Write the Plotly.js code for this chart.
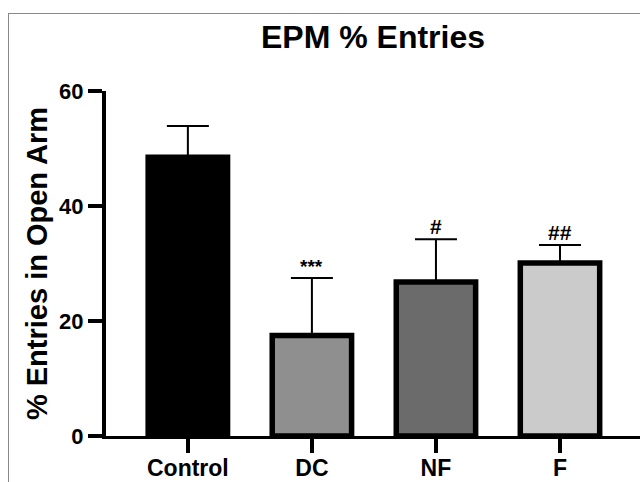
<!DOCTYPE html>
<html>
<head>
<meta charset="utf-8">
<script src="https://cdn.plot.ly/plotly-3.0.1.min.js"></script>
<style>
  html, body { margin: 0; padding: 0; background: #fff; }
  #wrap { position: relative; width: 640px; height: 482px; overflow: hidden; }
  #chart { width: 640px; height: 482px; }
  #frame { position: absolute; left: 8px; top: 13px; width: 700px; height: 600px;
           border-left: 1.5px solid #888; border-top: 1.5px solid #888; pointer-events: none; }
</style>
</head>
<body>
<div id="wrap">
  <div id="chart"></div>
  <div id="frame"></div>
</div>
<script>
const categories = ["Control", "DC", "NF", "F"];
const means = [48.5, 17.5, 26.8, 30.1];
const errors = [5.4, 10.0, 7.4, 3.1];
const significance = ["", "***", "#", "##"];
const annotationSizes = [0, 19, 21, 21];
const barColors = ["#000000", "#8f8f8f", "#6b6b6b", "#cbcbcb"];

const FONT = "Arial, 'Liberation Sans', sans-serif";

const trace = {
  type: "bar",
  x: categories,
  y: means,
  width: 0.64,
  marker: { color: barColors, line: { color: "#000", width: 5.5 } },
  error_y: {
    type: "data",
    symmetric: false,
    array: errors,
    arrayminus: errors.map(() => 0),
    color: "#000",
    thickness: 2,
    width: 21
  },
  hoverinfo: "skip"
};

const annotations = categories.map((c, i) => ({
  x: c,
  y: means[i] + errors[i],
  xref: "x",
  yref: "y",
  text: significance[i],
  showarrow: false,
  yanchor: "bottom",
  yshift: -1,
  font: { family: FONT, size: annotationSizes[i], color: "#000", weight: "bold" }
})).filter(a => a.text !== "");

const layout = {
  width: 640,
  height: 482,
  margin: { l: 106, r: 0, t: 91, b: 46, pad: 0 },
  paper_bgcolor: "#fff",
  plot_bgcolor: "#fff",
  showlegend: false,
  title: {
    text: "EPM % Entries",
    font: { family: FONT, size: 32, color: "#000", weight: "bold" },
    x: 0.5, xref: "paper", xanchor: "center",
    y: 1 - 37 / 482, yref: "container", yanchor: "middle"
  },
  xaxis: {
    type: "category",
    range: [-0.66, 3.645],
    showline: true, linecolor: "#000", linewidth: 3,
    ticks: "outside", ticklen: 14, tickwidth: 4, tickcolor: "#000",
    ticklabelstandoff: -5,
    showgrid: false, zeroline: false,
    tickfont: { family: FONT, size: 23, color: "#000", weight: "bold" }
  },
  yaxis: {
    range: [0, 60],
    tickvals: [0, 20, 40, 60],
    ticktext: ["0", "20", "40", "60"],
    showline: true, linecolor: "#000", linewidth: 4,
    ticks: "outside", ticklen: 14, tickwidth: 4, tickcolor: "#000",
    showgrid: false, zeroline: false,
    tickfont: { family: FONT, size: 22, color: "#000", weight: "bold" },
    title: {
      text: "% Entries in Open Arm",
      font: { family: FONT, size: 29, color: "#000", weight: "bold" },
      standoff: 4
    }
  },
  annotations: annotations
};

Plotly.newPlot("chart", [trace], layout, { staticPlot: true, displayModeBar: false });
</script>
</body>
</html>
